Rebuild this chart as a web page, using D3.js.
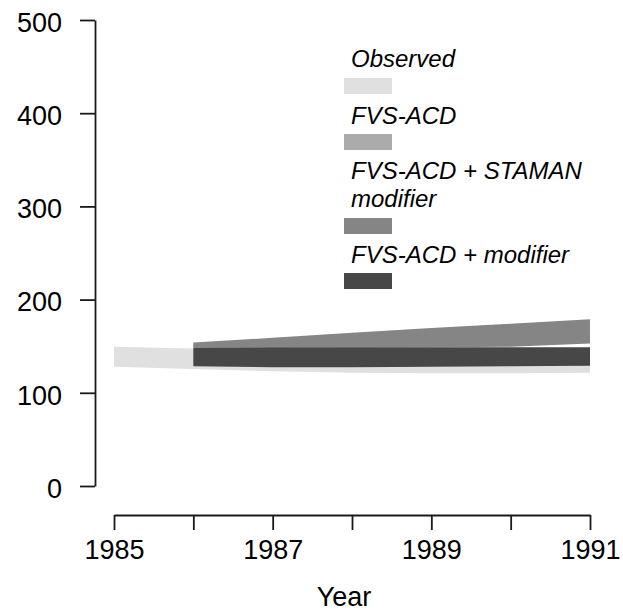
<!DOCTYPE html>
<html>
<head>
<meta charset="utf-8">
<script src="https://cdn.jsdelivr.net/npm/d3@7"></script>
<style>
  body { margin: 0; background: #fff; }
  svg { font-family: "Liberation Sans", Arial, sans-serif; }
  .axis path, .axis line { stroke: #1a1a1a; stroke-width: 1.8; }
  .axis text { font-size: 27px; fill: #000; }
  .legend text { font-size: 24px; font-style: italic; fill: #000; }
</style>
</head>
<body>
<div id="chart"></div>
<script>
//defaults for the chart
const width = 623
const height = 611

// data
const obsYears = [1985, 1986, 1987, 1988, 1989, 1990, 1991]
const obsLow = [128, 125.5, 123, 121.5, 121, 121, 121.5]
const obsHigh = [149.5, 147.5, 146, 145, 145, 145, 146]

const simYears = [1986, 1987, 1988, 1989, 1990, 1991]
const acdLow = [149, 149.5, 150, 151, 152, 154]
const acdHigh = [153, 157, 162, 167, 172, 177]
const stamanLow = [148, 148, 148.5, 149, 149.5, 153]
const stamanHigh = [154, 159, 164.5, 169.5, 174, 179]
const modLow = [128.5, 127.5, 127.5, 128, 128.5, 129]
const modHigh = [148, 148.5, 149, 149, 149, 149]

const xTicks = [1985, 1986, 1987, 1988, 1989, 1990, 1991]
const yTicks = [0, 100, 200, 300, 400, 500]

const seriesNames = ['Observed', 'FVS-ACD', 'FVS-ACD + STAMAN\nmodifier', 'FVS-ACD + modifier']
const seriesColors = ['#e0e0e0', '#ababab', '#858585', '#474747']

const chart = d3.select('#chart')
  .append('svg')
  .attr('width', width)
  .attr('height', height)

const xScale = d3.scaleLinear()
  .domain([1985, 1991])
  .range([114, 590])

const yScale = d3.scaleLinear()
  .domain([0, 500])
  .range([486, 20])

const area = d3.area()
  .x(d => xScale(d.year))
  .y0(d => yScale(d.low))
  .y1(d => yScale(d.high))

// build the bands, drawn in legend order so later ones sit on top
const bands = [
  { years: obsYears, low: obsLow, high: obsHigh },
  { years: simYears, low: acdLow, high: acdHigh },
  { years: simYears, low: stamanLow, high: stamanHigh },
  { years: simYears, low: modLow, high: modHigh }
]

bands.forEach((b, i) => {
  const pts = b.years.map((yr, j) => ({ year: yr, low: b.low[j], high: b.high[j] }))
  chart.append('path')
    .datum(pts)
    .attr('d', area)
    .attr('fill', seriesColors[i])
})

//axes
const yAxis = d3.axisLeft(yScale)
  .tickValues(yTicks)
  .tickSize(15)
  .tickSizeOuter(0)
  .tickPadding(18)

const xAxis = d3.axisBottom(xScale)
  .tickValues(xTicks)
  .tickSize(15)
  .tickSizeOuter(0)
  .tickPadding(10)
  .tickFormat(d => d % 2 === 1 ? d3.format('d')(d) : '')

chart.append('g')
  .attr('class', 'axis')
  .attr('transform', 'translate(95, 0)')
  .call(yAxis)
  .selectAll('text')
  .attr('dy', '0.42em')

chart.append('g')
  .attr('class', 'axis')
  .attr('transform', 'translate(0, 515)')
  .call(xAxis)

chart.append('text')
  .attr('x', 344)
  .attr('y', 606)
  .attr('text-anchor', 'middle')
  .style('font-size', '27px')
  .style('fill', '#000')
  .text('Year')

//legend
const legendTop = [67, 124, 179, 263]
const swatchTop = [78, 134, 218, 273]

const legend = chart.selectAll('.legend')
  .data(seriesNames)
  .enter()
  .append('g')
  .attr('class', 'legend')

legend.append('text')
  .attr('x', 351)
  .attr('y', (d, i) => legendTop[i])
  .selectAll('tspan')
  .data(d => d.split('\n'))
  .enter()
  .append('tspan')
  .attr('x', 351)
  .attr('dy', (d, j) => j === 0 ? 0 : 28)
  .text(d => d)

legend.append('rect')
  .attr('x', 344)
  .attr('y', (d, i) => swatchTop[i])
  .attr('width', 48)
  .attr('height', 16)
  .attr('fill', (d, i) => seriesColors[i])
</script>
</body>
</html>
